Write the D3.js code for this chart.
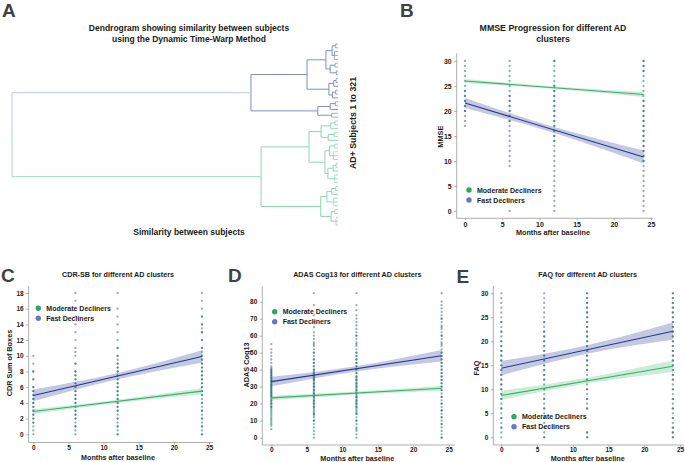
<!DOCTYPE html>
<html><head><meta charset="utf-8">
<script src="https://cdn.jsdelivr.net/npm/d3@7"></script>
<style>
body{margin:0;background:#fff}
text{font-family:"Liberation Sans",Arial,Helvetica,sans-serif;font-weight:bold;fill:#1a1a1a}
</style></head><body>
<svg id="chart" width="685" height="462"></svg>
<script>
// ---------------- DATA ----------------
const months = [0, 6, 12, 24];
const fitMonths = [0, 24];
const bandMonths = [0, 12, 24];
const xTicks = [0, 5, 10, 15, 20, 25];
const seriesNames = ["Moderate Decliners", "Fast Decliners"];

// Dendrogram: [mergeHeight, child, child, ...]; 0 = leaf
const blueCluster = [26.7,
  [9.5,
    [3.7, [1.8, [0.7, 0, 0], [1.1, 0, 0, 0]], [2.4, [0.9, 0, 0], [0.5, 0, 0]]],
    [2.8, [1.3, [0.6, 0, 0], 0], [1.7, [0.7, 0, 0], 0]]
  ],
  [6.2, [2.4, [0.8, 0, 0], 0], [1.9, 0, 0]]
];
const greenCluster = [23.6,
  [8.9,
    [5.2, [2.2, [0.9, 0, 0], 0], [3.0, [1.2, 0, 0], 0]],
    [4.0, [2.6, [1.1, 0, 0], [1.4, 0, 0, 0]], [3.1, [1.5, [0.6, 0, 0], 0], [1.0, 0, 0, 0]]]
  ],
  [5.3, [3.4, [1.9, [0.7, 0, 0], 0], [1.3, 0, 0, 0]], [2.1, [1.0, 0, 0], [0.6, 0, 0, 0]]]
];
const rootHeight = 100;

// MMSE
const mmseTicks = [0, 5, 10, 15, 20, 25, 30];
const mmseModerateDots = [
  [30,29,28,27,26,25,24,23,22,21,20],
  [30,29,28,27,26,25,24,23,22,21,20,19,18],
  [30,29,28,27,26,25,24,23,22,21,20,19,18,17,16,15,14],
  [30,29,28,27,26,25,24,23,22,21,20,19,18,17,16,15,14,13,12,11,10]
];
const mmseFastDots = [
  [24,23,22,21,20,19,18,17],
  [23,22,21,20,19,18,17,16,15,14,13,12,11,10,9,0],
  [30,25,24,23,22,21,20,19,18,17,16,15,14,13,12,11,10,9,8,7,6,5,4,3,2,1,0],
  [30,29,28,22,21,20,19,18,17,16,15,14,13,12,11,10,9,8,7,6,5,4,3,2,1,0]
];
const mmseModerateFit = [26.0, 23.3];
const mmseFastFit = [21.6, 10.8];
const mmseModerateLower = [25.6, 24.4, 22.8];
const mmseModerateUpper = [26.4, 24.9, 23.8];
const mmseFastLower = [20.6, 15.6, 9.5];
const mmseFastUpper = [22.6, 16.8, 12.1];

// CDR-SB
const cdrTicks = [0, 2, 4, 6, 8, 10, 12, 14, 16, 18];
const cdrModerateDots = [
  [0,0.5,1,1.5,2,2.5,3,3.5,4,4.5,5,5.5,6,7,8],
  [0,0.5,1,1.5,2,2.5,3,3.5,4,4.5,5,5.5,6,6.5,7,7.5,8,9],
  [0,0.5,1,1.5,2,2.5,3,3.5,4,4.5,5,5.5,6,6.5,7,7.5,8,8.5,9,10,11],
  [0,0.5,1,1.5,2,2.5,3,3.5,4,4.5,5,5.5,6,6.5,7,7.5,8,8.5,9,9.5,10,11,12,13,14,15]
];
const cdrFastDots = [
  [1.5,2,2.5,3,3.5,4,4.5,5,5.5,6,7,8,9,10],
  [1,2,2.5,3,3.5,4,4.5,5,5.5,6,6.5,7,7.5,8,9,10,10.5,11,12,13,14,15,17,18],
  [0,1,2,3,3.5,4,4.5,5,5.5,6,6.5,7,7.5,8,8.5,9,9.5,10,11,12,13,14,15,16,18],
  [0,1,2,3,4,5,5.5,6,6.5,7,7.5,8,8.5,9,9.5,10,10.5,11,12,13,13.5,14,15,16,17,18]
];
const cdrModerateFit = [2.9, 5.5];
const cdrFastFit = [4.95, 9.9];
const cdrModerateLower = [2.6, 4.0, 5.1];
const cdrModerateUpper = [3.2, 4.4, 5.9];
const cdrFastLower = [4.2, 7.0, 9.1];
const cdrFastUpper = [5.7, 7.8, 10.7];

// ADAS Cog13
const adasTicks = [0, 10, 20, 30, 40, 50, 60, 70, 80];
const adasModerateDots = [
  [5,7,8,9,10,11,12,13,14,15,16,17,18,19,20,21,22,23,24,25,26,27,28,29,30,31,32,33,34,35,36,37,38,39,40],
  [0,2,4,6,8,10,12,13,14,15,16,17,18,19,20,21,22,23,24,25,26,27,28,29,30,31,32,33,34,35,36,37,38,40,42,44,46,50,55],
  [0,2,4,6,8,10,12,14,15,16,17,18,19,20,21,22,23,24,25,26,27,28,29,30,31,32,33,34,35,36,38,40,42,44,46,48,50,55,60],
  [0,2,4,6,8,10,12,14,16,18,20,22,24,26,28,30,32,34,36,38,40,42,44,46,48,50,55,60,65,70]
];
const adasFastDots = [
  [18,20,22,24,25,26,27,28,29,30,31,32,33,34,35,36,37,38,39,40,41,42,44,46,48,50,52,55],
  [10,14,18,20,22,24,26,28,30,32,34,35,36,37,38,39,40,42,44,46,48,50,52,54,56,58,60,62,65,68,72,78,85],
  [5,10,14,18,20,22,24,26,28,30,32,34,36,38,40,42,44,46,48,50,52,54,56,58,60,62,64,66,68,70,72,75,78,85],
  [0,8,12,16,20,24,28,30,32,34,36,38,40,42,44,46,48,50,52,54,56,58,60,62,64,66,68,70,72,74,76,78,80,85]
];
const adasModerateFit = [23.4, 29.1];
const adasFastFit = [33.0, 48.2];
const adasModerateLower = [22.1, 25.4, 27.6];
const adasModerateUpper = [24.7, 27.2, 30.5];
const adasFastLower = [30.2, 39.0, 44.8];
const adasFastUpper = [35.8, 42.2, 51.6];

// FAQ
const faqTicks = [0, 5, 10, 15, 20, 25, 30];
const faqModerateDots = [
  [0,1,2,3,4,5,6,7,8,9,10,11,12,13,14,15,16,17,18,19,20,22,24],
  [0,1,2,3,4,5,6,7,8,9,10,11,12,13,14,15,16,17,18,19,20,21,22,24],
  [0,1,6,7,8,9,10,11,12,13,14,15,16,17,18,19,20,21,22,23,24,25,26,27,28,29,30],
  [0,1,2,3,4,5,6,7,8,9,10,11,12,13,14,15,16,17,18,19,20,21,22,23,24,25,26,27,28,29,30]
];
const faqFastDots = [
  [2,4,6,8,9,10,11,12,13,14,15,16,17,18,19,20,21,22,23,24,25,26,27,28,29,30],
  [0,6,8,10,12,13,14,15,16,17,18,19,20,21,22,23,24,25,26,27,28,29,30],
  [0,1,6,8,10,12,14,15,16,17,18,19,20,21,22,23,24,25,26,27,28,29,30],
  [0,1,2,4,6,8,10,12,13,14,15,16,17,18,19,20,21,22,23,24,25,26,27,28,29,30]
];
const faqModerateFit = [8.7, 14.8];
const faqFastFit = [14.4, 22.1];
const faqModerateLower = [7.8, 11.2, 13.6];
const faqModerateUpper = [9.7, 12.4, 16.0];
const faqFastLower = [12.9, 17.4, 20.3];
const faqFastUpper = [15.9, 19.2, 23.9];

// ---------------- STYLE ----------------
const C = {
  greenDot: "#1e9460", blueDot: "#26388f",
  greenLine: "#3bb06a", blueLine: "#27358a",
  greenBand: "rgba(70,185,115,0.28)", blueBand: "rgba(85,100,175,0.35)",
  legGreen: "#2aa862", legBlue: "#6678bd",
  dendBlue: "#7f8ecb", dendGreen: "#8fd5ae",
  rootBlue: "#c2c9e8", rootGreen: "#a3dcbd",
  spine: "#9a9a9a", letter: "#404040"
};

const svg = d3.select("#chart");

// ---------------- PANEL A: DENDROGRAM ----------------
(function () {
  const g = svg.append("g");
  function toNode(a) {
    return Array.isArray(a) ? { h: a[0], children: a.slice(1).map(toNode) } : { h: 0 };
  }
  const root = d3.hierarchy(toNode([rootHeight, blueCluster, greenCluster]));
  d3.cluster().size([185, 1]).separation(() => 1)(root);
  const xs = d3.scaleLinear().domain([0, rootHeight]).range([338, 12]);
  const ys = v => 42 + v;
  root.children[0].each(n => n.col = C.dendBlue);
  root.children[1].each(n => n.col = C.dendGreen);
  root.descendants().filter(n => n.children && n.depth > 0).forEach(n => {
    const cy = n.children.map(c => ys(c.x));
    g.append("line").attr("x1", xs(n.data.h)).attr("x2", xs(n.data.h))
      .attr("y1", d3.min(cy)).attr("y2", d3.max(cy))
      .attr("stroke", n.col).attr("stroke-width", 1).attr("opacity", n.height <= 1 ? 0.75 : 1);
    n.children.forEach(c => {
      g.append("line").attr("x1", xs(n.data.h)).attr("x2", xs(c.data.h))
        .attr("y1", ys(c.x)).attr("y2", ys(c.x))
        .attr("stroke", n.col).attr("stroke-width", 1).attr("opacity", n.height <= 1 ? 0.75 : 1);
    });
  });
  const b = root.children[0], gr = root.children[1];
  const mid = (ys(b.x) + ys(gr.x)) / 2;
  g.append("line").attr("x1", xs(rootHeight)).attr("x2", xs(rootHeight)).attr("y1", ys(b.x)).attr("y2", mid).attr("stroke", C.rootBlue);
  g.append("line").attr("x1", xs(rootHeight)).attr("x2", xs(rootHeight)).attr("y1", mid).attr("y2", ys(gr.x)).attr("stroke", C.rootGreen);
  g.append("line").attr("x1", xs(rootHeight)).attr("x2", xs(b.data.h)).attr("y1", ys(b.x)).attr("y2", ys(b.x)).attr("stroke", C.rootBlue);
  g.append("line").attr("x1", xs(rootHeight)).attr("x2", xs(gr.data.h)).attr("y1", ys(gr.x)).attr("y2", ys(gr.x)).attr("stroke", C.rootGreen);

  svg.append("text").attr("x", 2).attr("y", 17).attr("font-size", 19).style("fill", C.letter).text("A");
  const t = svg.append("text").attr("text-anchor", "middle").attr("font-size", 8.5);
  t.append("tspan").attr("x", 189).attr("y", 31).text("Dendrogram showing similarity between subjects");
  t.append("tspan").attr("x", 189).attr("y", 42).text("using the Dynamic Time-Warp Method");
  svg.append("text").attr("text-anchor", "middle").attr("font-size", 8.5).attr("x", 189).attr("y", 235).text("Similarity between subjects");
  svg.append("text").attr("text-anchor", "middle").attr("font-size", 8.8)
    .attr("transform", "translate(356,123) rotate(-90)").text("AD+ Subjects 1 to 321");
})();

// ---------------- SCATTER PANELS ----------------
function panel(o) {
  const g = svg.append("g");
  const x = d3.scaleLinear().domain([0, 25]).range([o.x0, o.x25]);
  const y = d3.scaleLinear().domain([0, o.yMax]).range([o.yBottom, o.yTop]);

  // dots
  const dotLayer = (sets, color, op) => {
    sets.forEach((vals, i) => {
      g.append("g").selectAll("circle").data(vals).join("circle")
        .attr("cx", x(months[i])).attr("cy", d => y(d)).attr("r", 1.15)
        .attr("fill", color).attr("opacity", op);
    });
  };
  dotLayer(o.modDots, C.greenDot, 0.6);
  dotLayer(o.fastDots, C.blueDot, 0.45);

  // bands
  const area = d3.area().curve(d3.curveNatural)
    .x((d, i) => x(bandMonths[i])).y0(d => y(d[0])).y1(d => y(d[1]));
  g.append("path").datum(d3.zip(o.modLower, o.modUpper)).attr("d", area).attr("fill", C.greenBand);
  g.append("path").datum(d3.zip(o.fastLower, o.fastUpper)).attr("d", area).attr("fill", C.blueBand);

  // fit lines
  const line = d3.line().x((d, i) => x(fitMonths[i])).y(d => y(d));
  g.append("path").datum(o.modFit).attr("d", line).attr("stroke", C.greenLine).attr("stroke-width", 1.1).attr("fill", "none");
  g.append("path").datum(o.fastFit).attr("d", line).attr("stroke", C.blueLine).attr("stroke-width", 1.1).attr("fill", "none");

  // spines
  g.append("line").attr("x1", o.spL).attr("x2", o.spL).attr("y1", o.spT).attr("y2", o.spB).attr("stroke", C.spine).attr("stroke-width", 0.8);
  g.append("line").attr("x1", o.spL).attr("x2", o.spR).attr("y1", o.spB).attr("y2", o.spB).attr("stroke", C.spine).attr("stroke-width", 0.8);

  // axes
  const ya = g.append("g").attr("transform", `translate(${o.spL},0)`)
    .call(d3.axisLeft(y).tickValues(o.yTicks).tickSize(2.5).tickPadding(2.5).tickFormat(d3.format("d")));
  const xa = g.append("g").attr("transform", `translate(0,${o.spB})`)
    .call(d3.axisBottom(x).tickValues(xTicks).tickSize(2).tickPadding(o.xPad).tickFormat(d3.format("d")));
  [ya, xa].forEach(a => {
    a.select(".domain").remove();
    a.selectAll(".tick line").attr("stroke", C.spine).attr("stroke-width", 0.8);
    a.selectAll(".tick text").attr("font-size", o.tick).attr("font-family", null).style("fill", "#1a1a1a");
  });

  // labels
  g.append("text").attr("text-anchor", "middle").attr("font-size", 7.2)
    .attr("x", o.cx).attr("y", o.xLabY).text("Months after baseline");
  g.append("text").attr("text-anchor", "middle").attr("font-size", 7.3)
    .attr("transform", `translate(${o.yLabX},${o.yLabY}) rotate(-90)`).text(o.yLabel);
  const t = g.append("text").attr("text-anchor", "middle").attr("font-size", o.titleSize);
  o.title.forEach((s, i) => t.append("tspan").attr("x", o.cx).attr("y", o.titleY + i * 11).text(s));
  svg.append("text").attr("x", o.letX).attr("y", o.letY).attr("font-size", 19).style("fill", C.letter).text(o.letter);

  // legend
  const lg = g.append("g");
  [C.legGreen, C.legBlue].forEach((col, i) => {
    lg.append("circle").attr("cx", o.legX).attr("cy", o.legY + i * 10).attr("r", 2.7).attr("fill", col);
    lg.append("text").attr("x", o.legX + 8).attr("y", o.legY + i * 10 + 2.5).attr("font-size", 7).text(seriesNames[i]);
  });
}

panel({ letter: "B", letX: 400, letY: 16.5, title: ["MMSE Progression for different AD", "clusters"], titleSize: 8.8, titleY: 31,
  cx: 553, x0: 465, x25: 651, yMax: 30, yBottom: 211, yTop: 61, spL: 456.7, spT: 53.3, spB: 218.3, spR: 653,
  yTicks: mmseTicks, tick: 7, xPad: 1.5, yLabel: "MMSE", yLabX: 442.5, yLabY: 136.7, xLabY: 235,
  legX: 469, legY: 190,
  modDots: mmseModerateDots, fastDots: mmseFastDots, modFit: mmseModerateFit, fastFit: mmseFastFit,
  modLower: mmseModerateLower, modUpper: mmseModerateUpper, fastLower: mmseFastLower, fastUpper: mmseFastUpper });

panel({ letter: "C", letX: 1, letY: 282, title: ["CDR-SB for different AD clusters"], titleSize: 7.2, titleY: 276.5,
  cx: 118, x0: 33.3, x25: 209, yMax: 18, yBottom: 434.3, yTop: 293, spL: 28.7, spT: 286, spB: 442.5, spR: 213,
  yTicks: cdrTicks, tick: 6.5, xPad: 0.5, yLabel: "CDR Sum of Boxes", yLabX: 12, yLabY: 363, xLabY: 459.5,
  legX: 38.3, legY: 308.3,
  modDots: cdrModerateDots, fastDots: cdrFastDots, modFit: cdrModerateFit, fastFit: cdrFastFit,
  modLower: cdrModerateLower, modUpper: cdrModerateUpper, fastLower: cdrFastLower, fastUpper: cdrFastUpper });

panel({ letter: "D", letX: 228, letY: 282, title: ["ADAS Cog13 for different AD clusters"], titleSize: 7.2, titleY: 276.5,
  cx: 357.3, x0: 271.3, x25: 448.7, yMax: 80, yBottom: 437.7, yTop: 301.7, spL: 262.3, spT: 286.7, spB: 445, spR: 455,
  yTicks: adasTicks, tick: 6.5, xPad: 0.5, yLabel: "ADAS Cog13", yLabX: 248.5, yLabY: 365, xLabY: 460.5,
  legX: 274.7, legY: 311.7,
  modDots: adasModerateDots, fastDots: adasFastDots, modFit: adasModerateFit, fastFit: adasFastFit,
  modLower: adasModerateLower, modUpper: adasModerateUpper, fastLower: adasFastLower, fastUpper: adasFastUpper });

panel({ letter: "E", letX: 456.5, letY: 283, title: ["FAQ for different AD clusters"], titleSize: 7.2, titleY: 276.5,
  cx: 587.7, x0: 501.3, x25: 680, yMax: 30, yBottom: 437.3, yTop: 293.3, spL: 493.3, spT: 286, spB: 445, spR: 684,
  yTicks: faqTicks, tick: 6.5, xPad: 0.5, yLabel: "FAQ", yLabX: 479, yLabY: 368, xLabY: 460.5,
  legX: 514, legY: 416.7,
  modDots: faqModerateDots, fastDots: faqFastDots, modFit: faqModerateFit, fastFit: faqFastFit,
  modLower: faqModerateLower, modUpper: faqModerateUpper, fastLower: faqFastLower, fastUpper: faqFastUpper });
</script>
</body></html>
